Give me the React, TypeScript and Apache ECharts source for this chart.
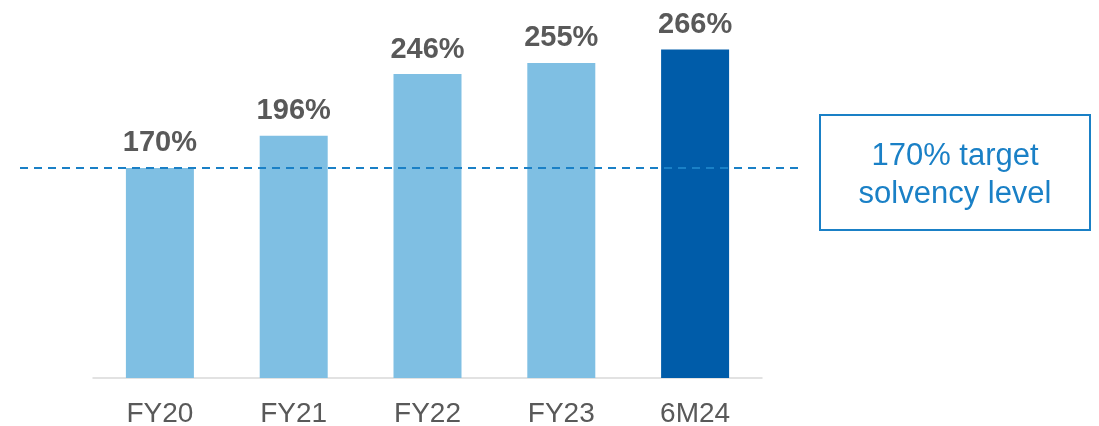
import React, { useEffect, useRef } from "react";
import * as echarts from "echarts";

const categories = ["FY20", "FY21", "FY22", "FY23", "6M24"];
const solvency = [170, 196, 246, 255, 266];
const targetLevel = 170;
const targetText = ["170% target", "solvency level"];

const LIGHT = "#7fbfe3";
const DARK = "#005ca9";
const LINE_BLUE = "#1a80c6";
const GREY = "#595959";

export default function App() {
  const ref = useRef<HTMLDivElement>(null);
  useEffect(() => {
    if (!ref.current) return;
    const chart = echarts.init(ref.current, undefined, { renderer: "svg" });
    chart.setOption({
      animation: false,
      grid: { left: 93, right: 337, top: 7.4, bottom: 48, containLabel: false },
      xAxis: {
        type: "category",
        data: categories,
        axisLine: { show: true, lineStyle: { color: "#d9d9d9", width: 1.5 } },
        axisTick: { show: false },
        axisLabel: {
          color: GREY,
          fontSize: 28,
          fontFamily: "Liberation Sans, Arial, sans-serif",
          margin: 20,
        },
      },
      yAxis: {
        type: "value",
        min: 0,
        max: 300,
        show: false,
        splitLine: { show: false },
      },
      series: [
        {
          type: "bar",
          data: solvency.map((v, i) => ({
            value: v,
            itemStyle: { color: i === solvency.length - 1 ? DARK : LIGHT },
          })),
          barWidth: 68,
          label: {
            show: true,
            position: "top",
            distance: 12,
            formatter: "{c}%",
            color: GREY,
            fontSize: 29,
            fontWeight: "bold",
            fontFamily: "Liberation Sans, Arial, sans-serif",
          },
          markLine: {
            silent: true,
            symbol: "none",
            label: { show: false },
            lineStyle: { color: LINE_BLUE, type: [8, 6], width: 2, opacity: 1 },
            data: [
              [
                { xAxis: 0, yAxis: targetLevel, x: 20 },
                { xAxis: 4, yAxis: targetLevel, x: 798 },
              ],
            ],
          },
        },
      ],
      graphic: [
        {
          type: "group",
          left: 819,
          top: 114,
          children: [
            {
              type: "rect",
              shape: { x: 0, y: 0, width: 270, height: 115 },
              style: { fill: "#fff", stroke: LINE_BLUE, lineWidth: 2 },
            },
            {
              type: "text",
              x: 135,
              y: 58,
              style: {
                text: targetText.join("\n"),
                fill: LINE_BLUE,
                fontSize: 31,
                lineHeight: 38,
                fontFamily: "Liberation Sans, Arial, sans-serif",
                align: "center",
                verticalAlign: "middle",
              },
            },
          ],
        },
      ],
    });
    return () => chart.dispose();
  }, []);
  return (
    <div
      ref={ref}
      style={{ position: "fixed", left: 0, top: 0, width: 1099, height: 426 }}
    />
  );
}
